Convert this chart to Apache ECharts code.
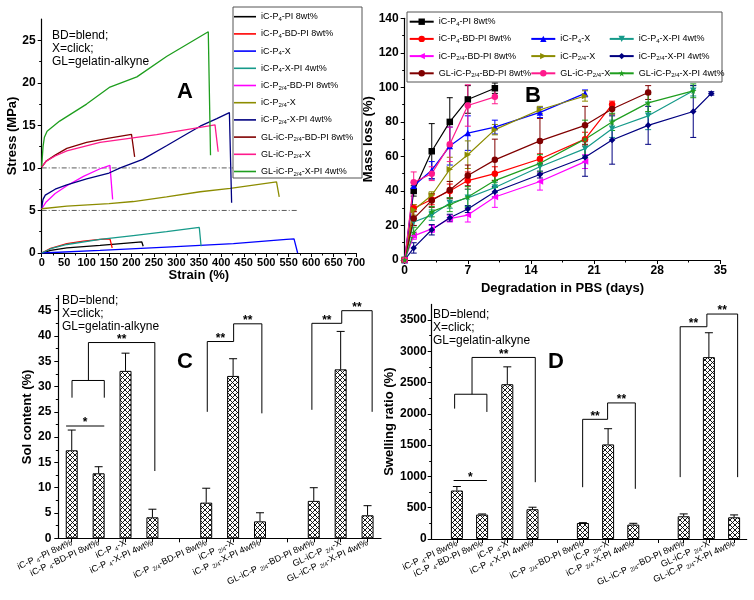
<!DOCTYPE html>
<html><head><meta charset="utf-8">
<script src="https://cdn.jsdelivr.net/npm/echarts@6/dist/echarts.min.js"></script>
<style>html,body{margin:0;padding:0;background:#fff}#c{width:754px;height:600px}</style>
</head><body><div id="c"></div>
<script>
const FONT = "'Liberation Sans', Arial, Helvetica, sans-serif";

// ---------- shared names ----------
const seriesNames = ['iC-P_{4}-PI 8wt%','iC-P_{4}-BD-PI 8wt%','iC-P_{4}-X','iC-P_{4}-X-PI 4wt%',
  'iC-P_{2/4}-BD-PI 8wt%','iC-P_{2/4}-X','iC-P_{2/4}-X-PI 4wt%',
  'GL-iC-P_{2/4}-BD-PI 8wt%','GL-iC-P_{2/4}-X','GL-iC-P_{2/4}-X-PI 4wt%'];
const seriesColors = ['#000000','#FF0000','#0000FF','#169A8A','#FF00FF','#8C8C00','#000080','#800000','#FF1A8C','#1E9E1E'];

// ---------- Panel A: stress (MPa) vs strain (%) ----------
const curveA_P4PI    = [[0,0],[20,0.3],[56,0.6],[130,0.9],[223,1.3],[226,0.8]];
const curveA_P4BD    = [[0,0],[20,0.55],[56,1.1],[93,1.4],[130,1.6],[152,1.65],[157,0.6]];
const curveA_P4X     = [[0,0],[130,0.3],[278,0.7],[427,1.1],[545,1.6],[562,1.65],[570,0]];
const curveA_P4XPI   = [[0,0],[20,0.5],[56,1.0],[130,1.6],[204,2.05],[278,2.5],[351,3.0],[355,0.8]];
const curveA_P24BD   = [[0,5.2],[10,6.0],[30,7.0],[56,7.9],[93,9.0],[130,9.9],[152,10.3],[158,6.3]];
const curveA_P24X    = [[0,5.2],[56,5.5],[150,5.8],[204,6.05],[278,6.6],[353,7.2],[420,7.6],[523,8.35],[529,6.6]];
const curveA_P24XPI  = [[0,5.3],[3,6.3],[8,6.8],[30,7.5],[56,8.0],[100,8.7],[150,9.4],[175,10.0],[225,11.0],[278,12.6],[320,13.9],[353,14.9],[390,15.8],[418,16.5],[423,5.9]];
const curveA_GLBD    = [[0,10.1],[10,10.8],[30,11.5],[56,12.3],[100,13.0],[150,13.5],[200,13.95],[207,11.3]];
const curveA_GLX     = [[0,10.1],[10,10.8],[30,11.4],[56,12.0],[130,13.0],[256,13.9],[386,15.05],[393,11.9]];
const curveA_GLXPI   = [[0,10.2],[3,12.5],[6,13.6],[12,14.3],[40,15.5],[100,17.5],[152,19.5],[212,20.7],[278,23.1],[371,26.0],[376,11.5]];
const curvesA = [curveA_P4PI,curveA_P4BD,curveA_P4X,curveA_P4XPI,curveA_P24BD,curveA_P24X,curveA_P24XPI,curveA_GLBD,curveA_GLX,curveA_GLXPI];
const offsetLevelsA = [5, 10];
const offsetLineEndA = 570;
const ticksAy = [0,5,10,15,20,25];

// ---------- Panel B: mass loss (%) vs days ----------
const daysB = [0,1,3,5,7,10,15,20,23,27,32,34];
const lossB_P4PI   = [0,40,63,80,93,99.5];
const errB_P4PI    = [0,3,16,14,8,3];
const lossB_P4BD   = [0,30,35,40,46,50,58.5,70,90];
const errB_P4BD    = [0,2,3,4,5,4,3,4,2];
const lossB_P4X    = [0,43,52,66,73.5,77,85.5,96.5];
const errB_P4X     = [0,2,5,11,10,4,3,2];
const lossB_P4XPI  = [0,22,26,33,36,42,54,64.5,76,83.5,98];
const errB_P4XPI   = [0,2,3,3,5,3,4,4,5,8,3];
const lossB_P24BD  = [0,14,18,24,26,36.5,45.5,57];
const errB_P24BD   = [0,2,2,2,4,6,5,4];
const lossB_P24X   = [0,29,37.5,52.5,61,75.5,87,95];
const errB_P24X    = [0,3,2,7,8,3,2,3];
const lossB_P24XPI = [0,7,17.5,24.5,29.5,39.5,49.5,59.5,69.5,78,86,96.5];
const errB_P24XPI  = [0,3,3,2,2,3,2,11,14,11,15,1];
const lossB_GLBD   = [0,24,34.5,40.5,49,58,69,78,87.5,97];
const errB_GLBD    = [0,4,4,5,6,12,13,11,3,4];
const lossB_GLX    = [0,45,50,67,89.5,94.5];
const errB_GLX     = [0,6,4,10,12,4];
const lossB_GLXPI  = [0,16,28,32,36.5,46,56,70,80,91,98];
const errB_GLXPI   = [0,3,3,4,6,4,5,11,5,5,4];
const lossB = [lossB_P4PI,lossB_P4BD,lossB_P4X,lossB_P4XPI,lossB_P24BD,lossB_P24X,lossB_P24XPI,lossB_GLBD,lossB_GLX,lossB_GLXPI];
const errB  = [errB_P4PI,errB_P4BD,errB_P4X,errB_P4XPI,errB_P24BD,errB_P24X,errB_P24XPI,errB_GLBD,errB_GLX,errB_GLXPI];
const symbolsB = ['rect','circle','triangle','path://M0,0 L10,0 L5,10 Z','path://M10,0 L10,10 L0,5 Z','path://M0,0 L10,5 L0,10 Z','diamond','circle','circle',
  'path://M50,0 L61,35 L98,35 L68,57 L79,91 L50,70 L21,91 L32,57 L2,35 L39,35 Z'];
const legendColsB = [[0,1,4,7],[2,5,8],[3,6,9]];

// ---------- Panels C & D: bar charts ----------
const catsCD = ['iC-P _{4}-PI 8wt%','iC-P _{4}-BD-PI 8wt%','iC-P _{4}-X','iC-P _{4}-X-PI 4wt%','',
  'iC-P _{2/4}-BD-PI 8wt%','iC-P _{2/4}-X','iC-P _{2/4}-X-PI 4wt%','',
  'GL-iC-P _{2/4}-BD-PI 8wt%','GL-iC-P _{2/4}-X','GL-iC-P _{2/4}-X-PI 4wt%'];
const slotsCD = [1,2,3,4,5,6,7,8,9,10,11,12];
const posCD = [1,2,3,4,6,7,8,10,11,12];
const solC      = [17.4,12.85,33.1,4.15,7.05,32.1,3.35,7.4,33.4,4.55];
const solErrC   = [4.0,1.3,3.5,1.6,2.85,3.4,1.7,2.6,7.5,1.9];
const swellD    = [775,390,2474,476,256,1512,230,363,2907,347];
const swellErrD = [64,10,278,32,5,251,21,38,390,38];
const ticksCy = [0,5,10,15,20,25,30,35,40,45];
const ticksDy = [0,500,1000,1500,2000,2500,3000,3500];
// brackets: [xLeft, xRight, yTop, yLeftFoot, yRightFoot]
const bracketsC = [[0.79,2.21,22.2,22.2,22.2],[1.01,2.21,31.2,27.8,27.8],[1.62,4.09,38.7,31.2,13.3],
  [6.04,7.02,38.9,25.0,38.9],[7.02,8.07,42.4,38.9,24.7],[9.93,11.04,42.5,25.4,42.5],[11.04,12.17,45.0,42.5,25.0]];
const bracketLabelsC = ['*','','**','**','**','**','**'];
const bracketsD = [[0.87,2.19,935,935,935],[0.91,2.19,2314,2084,2031],[1.6,4.11,2902,2314,908],
  [5.99,6.98,1913,828,1913],[6.98,8.08,2175,1913,802],[9.86,10.92,3393,989,3393],[10.92,12.14,3596,3393,989]];
const bracketLabelsD = ['*','','**','**','**','**','**'];
const noteText = 'BD=blend;\nX=click;\nGL=gelatin-alkyne';

// ---------- helpers ----------
function toRich(name){
  return name.replace(/\s+$/,'').split(/(_\{[^}]*\})/).filter(s=>s.length)
    .map(s => s.startsWith('_{') ? '{s|'+s.slice(2,-1)+'}' : '{n|'+s+'}').join('');
}
function richStyles(fs, sfs, shift){
  return { n:{fontSize:fs, fontFamily:FONT, color:'#000'}, s:{fontSize:sfs, fontFamily:FONT, color:'#000', padding:[shift,0,0,0]} };
}
function hatch(){
  const c = document.createElement('canvas'); c.width = 5; c.height = 5;
  const g = c.getContext('2d'); g.fillStyle = '#fff'; g.fillRect(0,0,5,5);
  g.strokeStyle = '#000'; g.lineWidth = 0.9; g.beginPath();
  g.moveTo(0,0); g.lineTo(5,5); g.moveTo(5,0); g.lineTo(0,5); g.stroke();
  return c;
}
const plain = v => String(v);
const tickLabel = {color:'#000', fontSize:12, fontWeight:'bold', fontFamily:FONT, formatter:plain};
const nameStyle = {color:'#000', fontSize:13, fontWeight:'bold', fontFamily:FONT};
function valAxis(o){
  return Object.assign({
    type:'value', splitLine:{show:false},
    axisLine:{show:true, onZero:false, lineStyle:{color:'#000', width:1.2}},
    axisTick:{show:true, length:4, lineStyle:{color:'#000', width:1}},
    minorTick:{show:true, splitNumber:2, length:2.5, lineStyle:{color:'#000', width:1}},
    axisLabel:Object.assign({margin:5}, tickLabel),
    nameLocation:'middle', nameTextStyle:nameStyle
  }, o);
}
function seg(a,b,color,w){ return {type:'line', shape:{x1:a[0],y1:a[1],x2:b[0],y2:b[1]}, style:{stroke:color, lineWidth:w||1}}; }

// ---------- build ----------
const chart = echarts.init(document.getElementById('c'), null, {renderer:'canvas'});
const series = [];

// A
curvesA.forEach((d,i)=>series.push({type:'line', name:seriesNames[i], xAxisIndex:0, yAxisIndex:0, data:d,
  symbol:'none', showSymbol:false, lineStyle:{color:seriesColors[i], width:1.3}, itemStyle:{color:seriesColors[i]}, z:2}));
offsetLevelsA.forEach(v=>series.push({type:'line', xAxisIndex:0, yAxisIndex:0, data:[[0,v],[offsetLineEndA,v]], symbol:'none', silent:true,
  lineStyle:{color:'#333', width:0.8, type:[5,2,1,2]}, z:1}));

// B
lossB.forEach((vals,i)=>{
  const days = daysB.slice(0, vals.length);
  series.push({type:'line', name:seriesNames[i]+' ', xAxisIndex:1, yAxisIndex:1, data:days.map((d,j)=>[d, vals[j]]),
    symbol:symbolsB[i], symbolSize:6.5, lineStyle:{color:seriesColors[i], width:1.2}, itemStyle:{color:seriesColors[i]}, z:3});
  const col = seriesColors[i];
  series.push({type:'custom', xAxisIndex:1, yAxisIndex:1, silent:true, z:2,
    data:days.map((d,j)=>[d, vals[j], errB[i][j]]),
    renderItem:(p,api)=>{
      const x=api.value(0), y=api.value(1), e=api.value(2); if(!e) return null;
      const t=api.coord([x,y+e]), b=api.coord([x,y-e]), c=3;
      return {type:'group', children:[seg(t,b,col), seg([t[0]-c,t[1]],[t[0]+c,t[1]],col), seg([b[0]-c,b[1]],[b[0]+c,b[1]],col)]};
    }});
});

// C & D bars
const pat = {image:hatch(), repeat:'repeat'};
[[2,solC,solErrC,bracketsC,bracketLabelsC],[3,swellD,swellErrD,bracketsD,bracketLabelsD]].forEach(([ax,vals,errs,brs,bls])=>{
  series.push({type:'bar', xAxisIndex:ax, yAxisIndex:ax, barWidth:12, data:posCD.map((p,j)=>[p, vals[j]]),
    itemStyle:{color:pat, borderColor:'#000', borderWidth:1}, z:2});
  series.push({type:'custom', xAxisIndex:ax, yAxisIndex:ax, silent:true, z:3,
    data:posCD.map((p,j)=>[p, vals[j], errs[j]]),
    renderItem:(p,api)=>{
      const x=api.value(0), y=api.value(1), e=api.value(2);
      const t=api.coord([x,y+e]), b=api.coord([x,y]), c=4;
      return {type:'group', children:[seg(t,b,'#000'), seg([t[0]-c,t[1]],[t[0]+c,t[1]],'#000')]};
    }});
  series.push({type:'custom', xAxisIndex:ax, yAxisIndex:ax, silent:true, clip:false, z:3,
    data:brs,
    renderItem:(p,api)=>{
      const x1=api.value(0), x2=api.value(1), yt=api.value(2), yl=api.value(3), yr=api.value(4);
      const pts=[api.coord([x1,yl]), api.coord([x1,yt]), api.coord([x2,yt]), api.coord([x2,yr])];
      const ch=[{type:'polyline', shape:{points:pts}, style:{stroke:'#000', lineWidth:1, fill:null}}];
      const lab=bls[p.dataIndex];
      if(lab) ch.push({type:'text', style:{text:lab, x:(pts[1][0]+pts[2][0])/2, y:pts[1][1]-3, align:'center', verticalAlign:'middle',
        fontSize:12, fontWeight:'bold', fontFamily:FONT, fill:'#000'}});
      return {type:'group', children:ch};
    }});
});

const catLabel = {
  customValues: slotsCD, rotate:25, margin:4, fontSize:9, fontFamily:FONT, color:'#000',
  formatter: v => { const s = catsCD[Math.round(v)-1]; return s ? toRich(s) : ''; },
  rich: richStyles(9, 6, 5)
};
const catAxis = (min)=>({type:'value', min:min, max:12.5, splitLine:{show:false},
  axisLine:{show:true, onZero:false, lineStyle:{color:'#000', width:1.2}},
  axisTick:{show:true, customValues:slotsCD, length:4, lineStyle:{color:'#000'}}, minorTick:{show:false},
  axisLabel:catLabel});

const legendA = {
  left:234, top:10.7, orient:'vertical', padding:0, itemGap:5.2, itemWidth:22, itemHeight:1.6, icon:'rect',
  data:seriesNames, formatter:toRich, selectedMode:false,
  textStyle:{fontSize:9, lineHeight:12, fontFamily:FONT, color:'#000', rich:richStyles(9,6,5)}
};
const legendB = legendColsB.map((idx,k)=>({
  left:[408.7,530.3,608.7][k], top:[15.7,32.9,32.9][k], orient:'vertical', padding:0, itemGap:5.2, itemWidth:24, itemHeight:8,
  data:idx.map(i=>seriesNames[i]+' '), formatter:toRich, selectedMode:false,
  textStyle:{fontSize:9, lineHeight:12, fontFamily:FONT, color:'#000', rich:richStyles(9,6,5)}
}));

const noteStyle = {text:noteText, fontSize:12, lineHeight:13.4, fontFamily:FONT, fill:'#000'};
const letter = (t,x,y)=>({type:'text', left:x, top:y, z:10, style:{text:t, fontSize:22, fontWeight:'bold', fontFamily:FONT, fill:'#000'}});

chart.setOption({
  animation:false, backgroundColor:'#fff',
  grid:[
    {left:41.7, top:19, width:314.3, height:234},
    {left:404.7, top:18.3, width:315.6, height:241.7},
    {left:58.3, top:295.5, width:322.7, height:242.8},
    {left:431.7, top:304.4, width:315, height:234.6}
  ],
  xAxis:[
    valAxis({gridIndex:0, min:0, max:700, interval:50, name:'Strain (%)', nameGap:15,
      axisLabel:Object.assign({}, tickLabel, {margin:4, fontSize:11})}),
    valAxis({gridIndex:1, min:0, max:35, interval:7, name:'Degradation in PBS (days)', nameGap:22}),
    Object.assign({gridIndex:2}, catAxis(0.5)),
    Object.assign({gridIndex:3}, catAxis(0))
  ],
  yAxis:[
    valAxis({gridIndex:0, min:0, max:27.5, interval:5, name:'Stress (MPa)', nameGap:21,
      axisTick:{show:true, customValues:ticksAy, length:4, lineStyle:{color:'#000'}}, axisLabel:Object.assign({}, tickLabel, {margin:6, customValues:ticksAy})}),
    valAxis({gridIndex:1, min:0, max:140, interval:20, name:'Mass loss (%)', nameGap:25, axisLabel:Object.assign({}, tickLabel, {margin:6})}),
    valAxis({gridIndex:2, min:0, max:48, interval:5, name:'Sol content (%)', nameGap:23,
      axisTick:{show:true, customValues:ticksCy, length:4, lineStyle:{color:'#000'}}, axisLabel:Object.assign({}, tickLabel, {margin:7, customValues:ticksCy})}),
    valAxis({gridIndex:3, min:0, max:3750, interval:500, name:'Swelling ratio (%)', nameGap:27,
      axisTick:{show:true, customValues:ticksDy, length:4, lineStyle:{color:'#000'}}, axisLabel:Object.assign({}, tickLabel, {margin:5, customValues:ticksDy})})
  ],
  legend:[legendA].concat(legendB),
  graphic:[
    {type:'rect', z:3, shape:{x:233, y:7, width:129, height:171}, style:{fill:'#fff', stroke:'#555', lineWidth:1}},
    {type:'rect', z:3, shape:{x:407, y:12, width:315, height:70}, style:{fill:'#fff', stroke:'#555', lineWidth:1}},
    {type:'text', left:52, top:28.5, z:10, style:noteStyle},
    {type:'text', left:62, top:293.5, z:10, style:noteStyle},
    {type:'text', left:433, top:307.5, z:10, style:noteStyle},
    letter('A',177,81), letter('B',525,85), letter('C',177,351), letter('D',548,351)
  ],
  series:series
});
</script></body></html>
